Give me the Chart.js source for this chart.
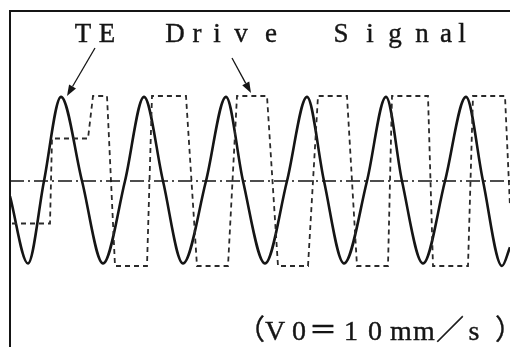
<!DOCTYPE html>
<html>
<head>
<meta charset="utf-8">
<script src="https://cdn.jsdelivr.net/npm/chart.js@4"></script>
<style>
  html, body { margin: 0; padding: 0; background: #fff; }
  canvas { display: block; }
</style>
</head>
<body>
<canvas id="teChart" width="510" height="347"></canvas>
<script>
// TE (tracking error) waveform: extremes and zero crossings
const teTime = [0, 18, 34, 51, 72, 93, 115, 134, 153, 173, 196, 216, 233, 255,
  277, 297, 314, 334, 357, 376, 392, 413, 435, 456, 473, 492, 500];
const teLevel = [-0.18, -0.97, 0, 0.99, 0, -0.97, 0, 0.99, 0, -0.97, 0, 0.99, 0, -0.97,
  0, 0.99, 0, -0.97, 0, 0.99, 0, -0.97, 0, 0.99, 0, -1.0, -0.78];

// drive signal (dashed square wave), corners of each step
const driveTime = [2, 40, 42, 78, 83, 97, 105, 137, 142, 176, 187, 218, 227, 257,
  268, 298, 308, 337, 347, 378, 382, 418, 423, 458, 463, 495, 500];
const driveLevel = [-0.5, -0.5, 0.5, 0.5, 1, 1, -1, -1, 1, 1, -1, -1, 1, 1,
  -1, -1, 1, 1, -1, -1, 1, 1, -1, -1, 1, 1, -0.3];

// zero reference line
const refTime = [0, 500];
const refLevel = [0, 0];

// labels (text, char centres on the time axis, baseline level)
const teLabel = 'TE';
const teLabelX = [73, 97];
const driveLabel = 'Drive Signal';
const driveLabelX = [165, 187, 207, 231, 261, null, 331, 360, 385, 412, 436, 452];
const labelLevel = 1.635;
const speedLabel = '（V0＝10mm／s）';
const speedLabelX = [241, 265, 289, 313, 341, 365, 391, 414, 440, 464, 499];
const speedLevel = -1.87;

// arrows: [fromX, fromY, toX, toY]
const arrows = [
  [85, 1.565, 57, 1.0],
  [222, 1.447, 241, 1.035],
];

const ink = '#151515';

function pts(xs, ys) {
  return xs.map((x, i) => ({ x: x, y: ys[i] }));
}

const annotate = {
  id: 'annotate',
  beforeDatasetsDraw(chart) {
    const { ctx, chartArea: a } = chart;
    ctx.save();
    ctx.strokeStyle = ink;
    ctx.lineWidth = 2;
    ctx.beginPath();
    ctx.moveTo(a.left, chart.height);
    ctx.lineTo(a.left, a.top);
    ctx.lineTo(chart.width, a.top);
    ctx.stroke();
    ctx.restore();
  },
  afterDatasetsDraw(chart) {
    const { ctx } = chart;
    const xs = chart.scales.x, ys = chart.scales.y;
    ctx.save();
    ctx.fillStyle = ink;
    ctx.strokeStyle = ink;
    ctx.lineWidth = 0.4;
    ctx.textAlign = 'center';
    ctx.textBaseline = 'alphabetic';

    const put = (text, centres, level, size) => {
      ctx.font = size + 'px "Liberation Serif", "Noto Sans CJK JP", serif';
      const y = ys.getPixelForValue(level);
      [...text].forEach((ch, i) => {
        if (centres[i] == null || ch === ' ') return;
        const x = xs.getPixelForValue(centres[i]);
        ctx.fillText(ch, x, y);
        ctx.strokeText(ch, x, y);
      });
    };
    put(teLabel, teLabelX, labelLevel, 27);
    put(driveLabel, driveLabelX, labelLevel, 27);
    put(speedLabel, speedLabelX, speedLevel, 28);

    ctx.lineWidth = 1.3;
    arrows.forEach(([x0, y0, x1, y1]) => {
      const px0 = xs.getPixelForValue(x0), py0 = ys.getPixelForValue(y0);
      const px1 = xs.getPixelForValue(x1), py1 = ys.getPixelForValue(y1);
      const ang = Math.atan2(py1 - py0, px1 - px0);
      const len = 11, wid = 4;
      ctx.beginPath();
      ctx.moveTo(px0, py0);
      ctx.lineTo(px1 - len * Math.cos(ang), py1 - len * Math.sin(ang));
      ctx.stroke();
      ctx.beginPath();
      ctx.moveTo(px1, py1);
      ctx.lineTo(px1 - len * Math.cos(ang) + wid * Math.sin(ang), py1 - len * Math.sin(ang) - wid * Math.cos(ang));
      ctx.lineTo(px1 - len * Math.cos(ang) - wid * Math.sin(ang), py1 - len * Math.sin(ang) + wid * Math.cos(ang));
      ctx.closePath();
      ctx.fill();
    });
    ctx.restore();
  }
};

new Chart(document.getElementById('teChart').getContext('2d'), {
  type: 'line',
  data: {
    datasets: [
      {
        label: 'reference',
        data: pts(refTime, refLevel),
        borderColor: ink,
        borderWidth: 1.4,
        borderDash: [14, 4, 2, 4],
        pointRadius: 0,
      },
      {
        label: 'Drive Signal',
        data: pts(driveTime, driveLevel),
        borderColor: '#2a2a2a',
        borderWidth: 1.8,
        borderDash: [5, 4],
        pointRadius: 0,
        tension: 0,
      },
      {
        label: 'TE',
        data: pts(teTime, teLevel),
        borderColor: ink,
        borderWidth: 2.6,
        pointRadius: 0,
        cubicInterpolationMode: 'monotone',
      },
    ],
  },
  options: {
    responsive: false,
    animation: false,
    layout: { padding: { left: 10, top: 11, right: 0, bottom: 0 } },
    plugins: { legend: { display: false }, tooltip: { enabled: false } },
    scales: {
      x: { type: 'linear', min: 0, max: 500, display: false },
      y: { min: -1.953, max: 2.0, display: false },
    },
  },
  plugins: [annotate],
});
</script>
</body>
</html>
